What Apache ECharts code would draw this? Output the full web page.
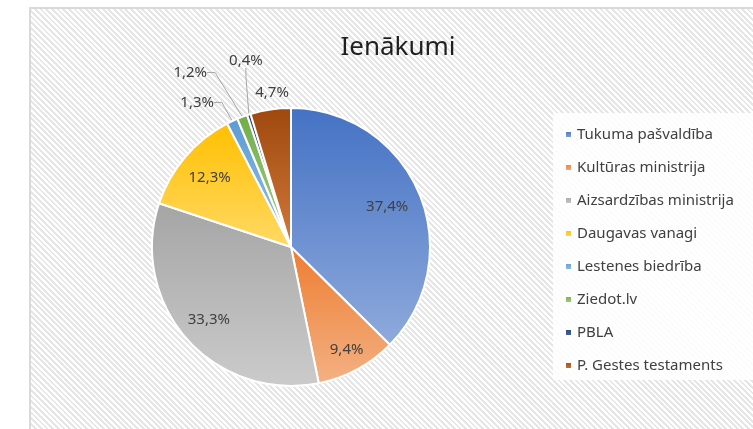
<!DOCTYPE html>
<html>
<head>
<meta charset="utf-8">
<script src="https://cdn.jsdelivr.net/npm/echarts@6/dist/echarts.min.js"></script>
<style>
  html, body { margin: 0; padding: 0; background: #fff; }
  #frame {
    position: absolute; left: 29px; top: 7px; width: 740px; height: 440px;
    box-sizing: border-box; border: 2px solid #d9d9d9;
    background: repeating-linear-gradient(45deg, #ffffff 0px, #ffffff 2px, #e6e6e6 2px, #e6e6e6 4px);
  }
  #legendBox {
    position: absolute; left: 553px; top: 113px; width: 200px; height: 267px;
    background: rgba(255,255,255,0.85);
  }
  #chart { position: absolute; left: 0; top: 0; width: 753px; height: 429px; }
</style>
</head>
<body>
<div id="frame"></div>
<div id="legendBox"></div>
<div id="chart"></div>
<script>
// dati
const categories = [
  "Tukuma pašvaldība",
  "Kultūras ministrija",
  "Aizsardzības ministrija",
  "Daugavas vanagi",
  "Lestenes biedrība",
  "Ziedot.lv",
  "PBLA",
  "P. Gestes testaments",
];
const shares = [37.4, 9.4, 33.3, 12.3, 1.3, 1.2, 0.4, 4.7];

// krāsas: augša -> apakša
const topColors = ["#4472C4", "#ED7D31", "#A5A5A5", "#FFC000", "#5B9BD5", "#70AD47", "#264478", "#9E480E"];
const bottomColors = ["#8FAADC", "#F4B183", "#CBCBCB", "#FFD966", "#9DC3E6", "#A9D18E", "#4A6AA0", "#D37A3C"];

const center = [291, 247];
const radius = 139;

// label distance (ratio of radius) for slices with inside labels
const insideDist = { 0: 0.75, 1: 0.84, 2: 0.79, 3: 0.77 };
// small slices: angle from top (counter-clockwise, deg) and distance ratio
const outsideLabels = {
  4: { ang: 33, dist: 1.24 },
  5: { ang: 30, dist: 1.45 },
  6: { ang: 13.6, dist: 1.38 },
  7: { ang: 7, dist: 1.12 },
};

const total = shares.reduce((a, b) => a + b, 0);
const midAngles = [];
let acc = 0;
shares.forEach((v) => {
  midAngles.push(((acc + v / 2) / total) * 2 * Math.PI);
  acc += v;
});

const fmt = (v) => v.toFixed(1).replace(".", ",") + "%";

const chart = echarts.init(document.getElementById("chart"));

const seriesData = categories.map((name, i) => ({
  name: name,
  value: shares[i],
  itemStyle: {
    color: {
      type: "linear", x: 0, y: 0, x2: 0, y2: 1,
      colorStops: [
        { offset: 0, color: topColors[i] },
        { offset: 1, color: bottomColors[i] },
      ],
    },
  },
  labelLine: { show: i === 4 || i === 5 || i === 6 },
}));

const option = {
  animation: false,
  title: {
    text: "Ienākumi",
    left: 393,
    top: 30,
    textAlign: "center",
    textStyle: {
      fontFamily: "Noto Sans",
      fontSize: 26,
      fontWeight: "normal",
      color: "#1f1f1f",
    },
  },
  legend: {
    orient: "vertical",
    left: 559,
    top: 122,
    itemWidth: 7,
    itemHeight: 7,
    itemGap: 18,
    icon: "rect",
    textStyle: {
      fontFamily: "Noto Sans",
      fontSize: 15,
      color: "#404040",
      padding: [0, 0, 0, 0],
    },
    data: categories,
  },
  series: [
    {
      type: "pie",
      center: center,
      radius: radius,
      startAngle: 90,
      clockwise: true,
      itemStyle: { borderColor: "#ffffff", borderWidth: 2 },
      label: {
        show: true,
        position: "outside",
        fontFamily: "Noto Sans",
        fontSize: 15,
        color: "#404040",
        formatter: (p) => fmt(p.value),
      },
      labelLine: {
        show: true,
        length: 8,
        length2: 8,
        lineStyle: { color: "#a6a6a6", width: 1 },
      },
      labelLayout: (params) => {
        const i = params.dataIndex;
        let x, y;
        if (outsideLabels[i]) {
          const a = (outsideLabels[i].ang * Math.PI) / 180;
          const d = outsideLabels[i].dist * radius;
          x = center[0] - Math.sin(a) * d;
          y = center[1] - Math.cos(a) * d;
        } else {
          const a = midAngles[i];
          const d = insideDist[i] * radius;
          x = center[0] + Math.sin(a) * d;
          y = center[1] - Math.cos(a) * d;
        }
        return { x: x, y: y, align: "center", verticalAlign: "middle" };
      },
      data: seriesData,
    },
  ],
};

chart.setOption(option);
</script>
</body>
</html>
